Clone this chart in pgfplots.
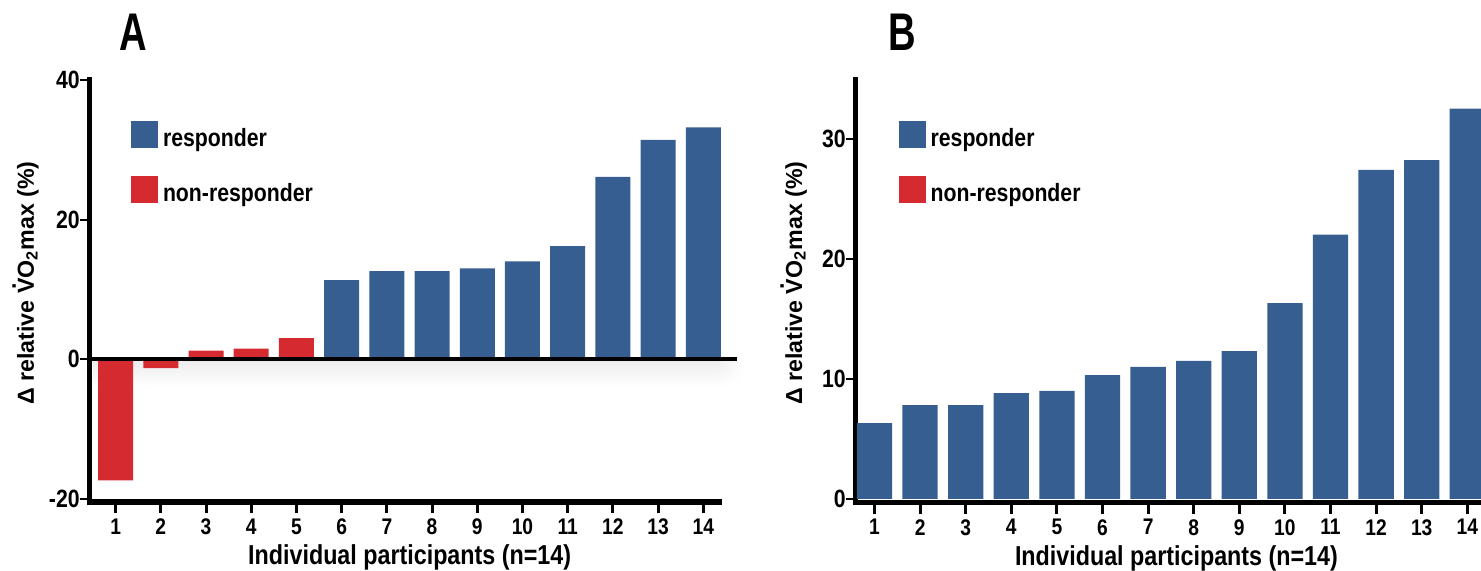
\documentclass[border=0pt]{standalone}
\usepackage{fontspec}
\setmainfont{Liberation Sans}
\newfontfamily\cnd{Liberation Sans}[FakeStretch=0.85]
\newfontfamily\ttl{Liberation Sans}[FakeStretch=0.72]
\usepackage{pgfplots}
\pgfplotsset{compat=1.18}
\usetikzlibrary{fadings}
\definecolor{resp}{HTML}{365E91}
\definecolor{nonresp}{HTML}{D42A30}

\newcommand\Vdot{\ooalign{V\cr\hidewidth\raisebox{0.78em}{.}\hidewidth\cr}}

\pgfplotsset{
  legbox/.style={draw=none, fill=#1,
    legend image code/.code={\fill (0pt,-0.5pt) rectangle (13.5pt,13pt);}},
  panel/.style={
    scale only axis,
    axis x line=bottom, axis y line=left,
    axis line style={line width=2.6pt, line cap=rect, -},
    tick align=outside,
    xtick={1,2,3,4,5,6,7,8,9,10,11,12,13,14},
    xticklabels={1,2,3,4,5,6,7,8,9,10,11,12,13,14},
    xtick style={line width=1.5pt, black, /pgfplots/major tick length=5.6pt},
    ytick style={line width=1pt, black, /pgfplots/major tick length=5pt},
    xticklabel style={font=\cnd\bfseries\fontsize{11.3}{11.3}\selectfont,
      inner sep=0pt, yshift=-3.9pt},
    yticklabel style={font=\cnd\bfseries\fontsize{12.5}{12.5}\selectfont,
      inner sep=0pt, xshift=-0.5pt},
    ybar, bar width=0.774,
    xlabel={Individual participants (n=14)},
    ylabel={Δ relative \Vdot O\textsubscript{2}max (\%)},
    xlabel style={font=\cnd\bfseries\fontsize{13.7}{14}\selectfont,
      anchor=base, inner sep=0pt},
    ylabel style={font=\bfseries\fontsize{11.6}{12}\selectfont,
      anchor=center, rotate=0, inner sep=0pt},
    legend style={draw=none, fill=none, at={(axis description cs:0,1)},
      anchor=north west, inner sep=0pt, outer sep=0pt, row sep=13pt,
      font=\cnd\bfseries\fontsize{12.5}{12.5}\selectfont,
      nodes={inner sep=0pt, outer sep=0pt},
      cells={anchor=base west},
      /tikz/every odd column/.append style={column sep=2.5pt}},
  }
}

\begin{document}
\begin{tikzpicture}
\useasboundingbox (0,0) rectangle (740.5pt,285.5pt);

% panel A
\begin{axis}[panel,
  at={(44.8pt,34.5pt)}, anchor=south west,
  width=315pt, height=211pt,
  xmin=0.425, xmax=14.36, ymin=-20.5, ymax=40,
  ytick={-20,0,20,40}, yticklabels={-20,0,20,40},
  clip=false,
  legend style={xshift=20.7pt, yshift=-20.5pt},
  x label style={at={(axis description cs:0.508,0)}, yshift=-31.5pt},
  y label style={at={(axis description cs:-0.0978,0.519)}},
]
% soft shadow below the zero line
\shade[top color=black!7, middle color=black!13, bottom color=white, draw=none]
  (axis cs:0.5,-0.3) rectangle (axis cs:14.3,-4.0);
\shade[top color=black!7, middle color=black!13, bottom color=white, draw=none,
  path fading=east]
  (axis cs:14.3,-0.3) rectangle (axis cs:14.9,-4.0);
\addplot[fill=nonresp, draw=none, bar shift=0pt, forget plot] coordinates {
  (1,-17.4) (2,-1.3) (3,1.2) (4,1.5) (5,3.0)
};
\addplot[fill=resp, draw=none, bar shift=0pt, forget plot] coordinates {
  (6,11.3) (7,12.6) (8,12.6) (9,13.0) (10,14.0)
  (11,16.2) (12,26.1) (13,31.4) (14,33.2)
};
\draw[line width=1.7pt] (axis cs:0.425,0) -- (axis cs:14.75,0);
\addlegendimage{legbox=resp}
\addlegendentry{responder}
\addlegendimage{legbox=nonresp}
\addlegendentry{non-responder}
\end{axis}

% panel B
\begin{axis}[panel,
  at={(427.8pt,34.25pt)}, anchor=south west,
  width=312.7pt, height=211.25pt,
  xmin=0.586, xmax=14.30, ymin=-0.3, ymax=34.88,
  ytick={0,10,20,30}, yticklabels={0,10,20,30},
  legend style={xshift=21.5pt, yshift=-20.5pt},
  x label style={at={(axis description cs:0.513,0)}, yshift=-31.5pt},
  y label style={at={(axis description cs:-0.0953,0.519)}},
]
\addplot[fill=resp, draw=none, bar shift=0pt, forget plot] coordinates {
  (1,6.3) (2,7.8) (3,7.8) (4,8.8) (5,9.0) (6,10.3) (7,11.0)
  (8,11.5) (9,12.3) (10,16.3) (11,22.0) (12,27.4) (13,28.2) (14,32.5)
};
\addlegendimage{legbox=resp}
\addlegendentry{responder}
\addlegendimage{legbox=nonresp}
\addlegendentry{non-responder}
\end{axis}

\node[anchor=base west, inner sep=0pt,
  font=\ttl\bfseries\fontsize{26.5}{26.5}\selectfont] at (59.5pt,260pt) {A};
\node[anchor=base west, inner sep=0pt,
  font=\ttl\bfseries\fontsize{26.5}{26.5}\selectfont] at (444pt,260pt) {B};
\end{tikzpicture}
\end{document}
